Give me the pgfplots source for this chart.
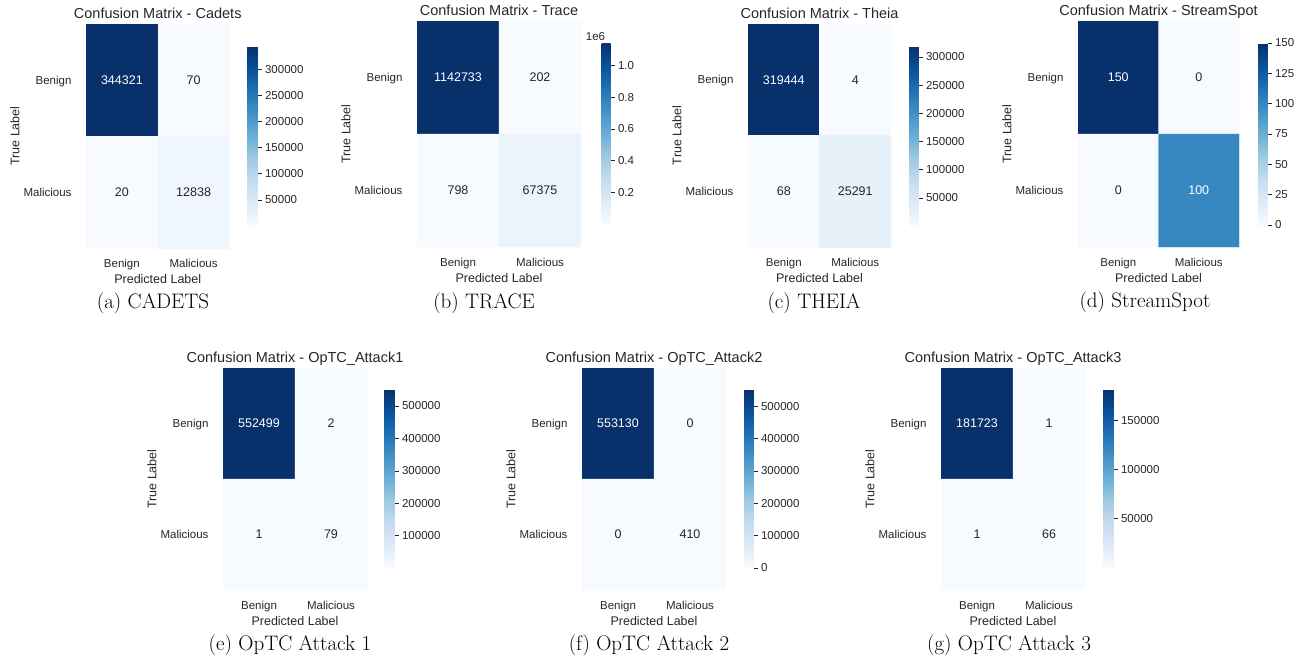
\documentclass[border=0pt]{standalone}
\usepackage{pgfplots}
\pgfplotsset{compat=1.18}
\usepackage{fontspec}
\setmainfont{Liberation Sans}
\newfontfamily\capfont{Latin Modern Roman}
\definecolor{tg}{HTML}{262626}
\pgfplotsset{
 colormap={blues}{rgb255=(247,251,255) rgb255=(222,235,247) rgb255=(198,219,239) rgb255=(158,202,225) rgb255=(107,174,214) rgb255=(66,146,198) rgb255=(33,113,181) rgb255=(8,81,156) rgb255=(8,48,107)},
 cm/.style={
  scale only axis, anchor=north west,
  xmin=-0.5,xmax=1.5,ymin=-0.5,ymax=1.5, y dir=reverse,
  axis line style={draw=none},
  xtick={0,1}, ytick={0,1},
  xticklabels={Benign,Malicious}, yticklabels={Benign,Malicious},
  major tick length=0pt, tick style={draw=none},
  xticklabel style={font=\fontsize{11.5}{13}\selectfont, text=tg, anchor=base, yshift=-19pt},
  yticklabel style={font=\fontsize{11.5}{13}\selectfont, text=tg, anchor=base east, xshift=-11pt, yshift=-4pt},
  xlabel={Predicted Label}, ylabel={True Label},
  xlabel style={font=\fontsize{12.5}{14}\selectfont, text=tg, at={([yshift=-31pt]axis description cs:0.5,0)}, anchor=center},
  ylabel style={font=\fontsize{12.5}{14}\selectfont, text=tg, at={([xshift=-71pt]axis description cs:0,0.5)}, anchor=center},
  every axis title shift=0pt,
  title style={font=\fontsize{14.5}{16}\selectfont, text=tg, at={([yshift=6pt]axis description cs:0.5,1)}, anchor=base},
  colormap name=blues, colorbar,
  every colorbar/.append style={
    at={(parent axis.north east)}, anchor=north west,
    axis line style={draw=none},
    scaled y ticks=false,
    ytick pos=right, yticklabel pos=right, tick align=outside,
    major tick length=4pt, tick style={draw=tg, line width=0.6pt},
    yticklabel style={font=\fontsize{11.5}{13}\selectfont, text=tg},
  },
 },
 cellw/.style={only marks, mark=none, point meta=explicit symbolic, nodes near coords={\pgfplotspointmeta}, nodes near coords align={center}, every node near coord/.append style={font=\fontsize{12.5}{14}\selectfont, text=white}},
 celld/.style={only marks, mark=none, point meta=explicit symbolic, nodes near coords={\pgfplotspointmeta}, nodes near coords align={center}, every node near coord/.append style={font=\fontsize{12.5}{14}\selectfont, text=tg}},
}
\begin{document}
\begin{tikzpicture}
\path[use as bounding box] (0,0) rectangle (1301pt,-661pt);
% (a) Cadets
\begin{axis}[cm, at={(86pt,-24pt)}, width=143.5pt, height=224pt,
  title={Confusion Matrix - Cadets},
  point meta min=20, point meta max=344321,
  colorbar style={xshift=9.5pt, yshift=-22pt, width=10pt, height=180pt,
    ytick={50000,100000,150000,200000,250000,300000},
    yticklabels={50000,100000,150000,200000,250000,300000}}]
\addplot[matrix plot*, mesh/cols=2, point meta=explicit] table[meta=c, row sep=\\]{x y c\\ 0 0 344321\\ 1 0 70\\ 0 1 20\\ 1 1 12838\\};
\addplot[cellw] table[meta=t, row sep=\\]{x y t\\ 0 0 344321\\};
\addplot[celld] table[meta=t, row sep=\\]{x y t\\ 1 0 70\\ 0 1 20\\ 1 1 12838\\};
\end{axis}
% (b) Trace
\begin{axis}[cm, at={(417pt,-21pt)}, width=164pt, height=226pt,
  title={Confusion Matrix - Trace},
  point meta min=202, point meta max=1142733,
  colorbar style={xshift=12pt, yshift=-22pt, width=9pt, height=181pt,
    ytick={200000,400000,600000,800000,1000000},
    yticklabels={0.2,0.4,0.6,0.8,1.0},
    extra description/.code={\node[font=\fontsize{11.5}{13}\selectfont, text=tg, anchor=base, inner sep=0pt] at ([xshift=-6pt, yshift=2pt]axis description cs:0,1) {1e6};}}]
\addplot[matrix plot*, mesh/cols=2, point meta=explicit] table[meta=c, row sep=\\]{x y c\\ 0 0 1142733\\ 1 0 202\\ 0 1 798\\ 1 1 67375\\};
\addplot[cellw] table[meta=t, row sep=\\]{x y t\\ 0 0 1142733\\};
\addplot[celld] table[meta=t, row sep=\\]{x y t\\ 1 0 202\\ 0 1 798\\ 1 1 67375\\};
\end{axis}
% (c) Theia
\begin{axis}[cm, at={(748pt,-24pt)}, width=143pt, height=223pt,
  title={Confusion Matrix - Theia},
  point meta min=4, point meta max=319444,
  colorbar style={xshift=10pt, yshift=-22pt, width=9pt, height=180pt,
    ytick={50000,100000,150000,200000,250000,300000},
    yticklabels={50000,100000,150000,200000,250000,300000}}]
\addplot[matrix plot*, mesh/cols=2, point meta=explicit] table[meta=c, row sep=\\]{x y c\\ 0 0 319444\\ 1 0 4\\ 0 1 68\\ 1 1 25291\\};
\addplot[cellw] table[meta=t, row sep=\\]{x y t\\ 0 0 319444\\};
\addplot[celld] table[meta=t, row sep=\\]{x y t\\ 1 0 4\\ 0 1 68\\ 1 1 25291\\};
\end{axis}
% (d) StreamSpot
\begin{axis}[cm, at={(1078pt,-21pt)}, width=161pt, height=226pt,
  title={Confusion Matrix - StreamSpot},
  point meta min=0, point meta max=150,
  colorbar style={xshift=11pt, yshift=-22pt, width=9pt, height=182pt,
    ytick={0,25,50,75,100,125,150},
    yticklabels={0,25,50,75,100,125,150}}]
\addplot[matrix plot*, mesh/cols=2, point meta=explicit] table[meta=c, row sep=\\]{x y c\\ 0 0 150\\ 1 0 0\\ 0 1 0\\ 1 1 100\\};
\addplot[cellw] table[meta=t, row sep=\\]{x y t\\ 0 0 150\\ 1 1 100\\};
\addplot[celld] table[meta=t, row sep=\\]{x y t\\ 1 0 0\\ 0 1 0\\};
\end{axis}
% (e) OpTC Attack1
\begin{axis}[cm, at={(223pt,-368pt)}, width=144pt, height=222pt,
  title={Confusion Matrix - OpTC\_Attack1},
  point meta min=1, point meta max=552499,
  colorbar style={xshift=9pt, yshift=-21pt, width=10pt, height=179pt,
    ytick={100000,200000,300000,400000,500000},
    yticklabels={100000,200000,300000,400000,500000}}]
\addplot[matrix plot*, mesh/cols=2, point meta=explicit] table[meta=c, row sep=\\]{x y c\\ 0 0 552499\\ 1 0 2\\ 0 1 1\\ 1 1 79\\};
\addplot[cellw] table[meta=t, row sep=\\]{x y t\\ 0 0 552499\\};
\addplot[celld] table[meta=t, row sep=\\]{x y t\\ 1 0 2\\ 0 1 1\\ 1 1 79\\};
\end{axis}
% (f) OpTC Attack2
\begin{axis}[cm, at={(582pt,-368pt)}, width=144pt, height=222pt,
  title={Confusion Matrix - OpTC\_Attack2},
  point meta min=0, point meta max=553130,
  colorbar style={xshift=10pt, yshift=-21pt, width=9pt, height=179pt,
    ytick={0,100000,200000,300000,400000,500000},
    yticklabels={0,100000,200000,300000,400000,500000}}]
\addplot[matrix plot*, mesh/cols=2, point meta=explicit] table[meta=c, row sep=\\]{x y c\\ 0 0 553130\\ 1 0 0\\ 0 1 0\\ 1 1 410\\};
\addplot[cellw] table[meta=t, row sep=\\]{x y t\\ 0 0 553130\\};
\addplot[celld] table[meta=t, row sep=\\]{x y t\\ 1 0 0\\ 0 1 0\\ 1 1 410\\};
\end{axis}
% (g) OpTC Attack3
\begin{axis}[cm, at={(941pt,-368pt)}, width=144pt, height=222pt,
  title={Confusion Matrix - OpTC\_Attack3},
  point meta min=1, point meta max=181723,
  colorbar style={xshift=10pt, yshift=-21pt, width=10pt, height=179pt,
    ytick={50000,100000,150000},
    yticklabels={50000,100000,150000}}]
\addplot[matrix plot*, mesh/cols=2, point meta=explicit] table[meta=c, row sep=\\]{x y c\\ 0 0 181723\\ 1 0 1\\ 0 1 1\\ 1 1 66\\};
\addplot[cellw] table[meta=t, row sep=\\]{x y t\\ 0 0 181723\\};
\addplot[celld] table[meta=t, row sep=\\]{x y t\\ 1 0 1\\ 0 1 1\\ 1 1 66\\};
\end{axis}
% captions
\begin{scope}[every node/.style={font=\capfont\fontsize{21}{24}\selectfont, text=black}]
\node at (153pt,-303pt) {(a) CADETS};
\node at (484pt,-303pt) {(b) TRACE};
\node at (814pt,-303pt) {(c) THEIA};
\node at (1145pt,-302pt) {(d) StreamSpot};
\node at (290pt,-645pt) {(e) OpTC Attack 1};
\node at (649pt,-645pt) {(f) OpTC Attack 2};
\node at (1009pt,-645pt) {(g) OpTC Attack 3};
\end{scope}
\end{tikzpicture}
\end{document}
